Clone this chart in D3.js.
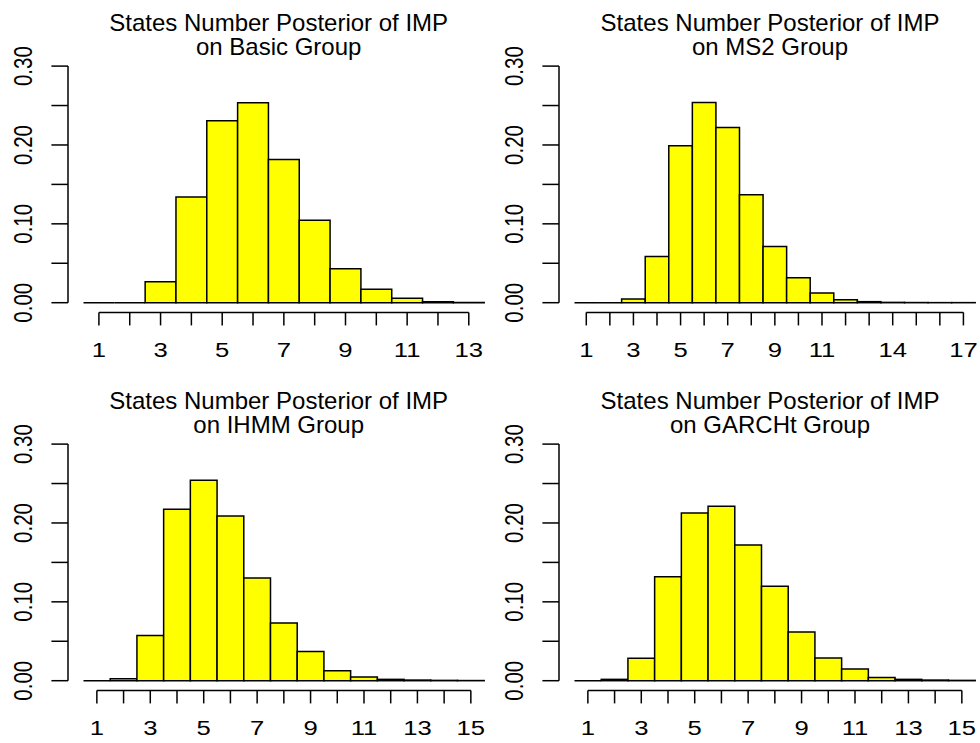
<!DOCTYPE html>
<html>
<head>
<meta charset="utf-8">
<script src="https://cdn.jsdelivr.net/npm/d3@7"></script>
<style>
  html, body { margin: 0; padding: 0; background: #fff; }
  svg { display: block; }
  text { font-family: "Liberation Sans", Arial, Helvetica, sans-serif; fill: #000; }
</style>
</head>
<body>
<svg id="chart" width="980" height="743"></svg>
<script>
// ---- Data ----
const titleLine1 = "States Number Posterior of IMP";
const groupNames = ["Basic", "MS2", "IHMM", "GARCHt"];

const basicValues  = [0, 0, 0.0266, 0.134, 0.2307, 0.2535, 0.1817, 0.1044, 0.0431, 0.0169, 0.0055, 0.0013, 0.0004];
const ms2Values    = [0, 0, 0.0046, 0.0587, 0.199, 0.254, 0.2222, 0.1369, 0.0714, 0.0317, 0.0123, 0.0038, 0.0013, 0.0004, 0.0002, 0.0001, 0.0001];
const ihmmValues   = [0, 0.0025, 0.0572, 0.2174, 0.2542, 0.2089, 0.1301, 0.0733, 0.0369, 0.0127, 0.0047, 0.0017, 0.0008, 0.0004, 0.0002];
const garchtValues = [0, 0.0017, 0.0284, 0.1318, 0.2127, 0.2212, 0.172, 0.1199, 0.0619, 0.0288, 0.0148, 0.0042, 0.0017, 0.0008, 0.0004];

const basicXLabels  = [1, 3, 5, 7, 9, 11, 13];
const ms2XLabels    = [1, 3, 5, 7, 9, 11, 14, 17];
const ihmmXLabels   = [1, 3, 5, 7, 9, 11, 13, 15];
const garchtXLabels = [1, 3, 5, 7, 9, 11, 13, 15];

const yTicks      = [0, 0.05, 0.10, 0.15, 0.20, 0.25, 0.30];
const yTickLabels = [0, 0.10, 0.20, 0.30];

// ---- Layout ----
const panels = [
  { values: basicValues,  xLabels: basicXLabels,  name: groupNames[0], col: 0, row: 0 },
  { values: ms2Values,    xLabels: ms2XLabels,    name: groupNames[1], col: 1, row: 0 },
  { values: ihmmValues,   xLabels: ihmmXLabels,   name: groupNames[2], col: 0, row: 1 },
  { values: garchtValues, xLabels: garchtXLabels, name: groupNames[3], col: 1, row: 1 }
];

const colAxisX   = [68, 559];      // y-axis line x per column
const colTitleX  = [278.7, 770];   // title centre per column
const rowBaseY   = [302.7, 680.7]; // y of value 0 per row
const plotHeight = 236.6;          // pixels for 0..0.30
const barLeftOff = 15.5, barRightOff = 416.2;
const axisFont = 20.5, xStretch = 1.25;

const svg = d3.select("#chart");

panels.forEach(p => {
  const ax = colAxisX[p.col];
  const y0 = rowBaseY[p.row];
  const n = p.values.length;

  const x = d3.scaleLinear().domain([0.5, n + 0.5]).range([ax + barLeftOff, ax + barRightOff]);
  const y = d3.scaleLinear().domain([0, 0.30]).range([y0, y0 - plotHeight]);

  const g = svg.append("g");

  // bars (paths so zero-height bars still show their border line)
  g.selectAll("path.bar")
    .data(p.values)
    .enter().append("path")
    .attr("class", "bar")
    .attr("d", (v, i) => {
      const k = i + 1;
      const xa = x(k - 0.5), xb = x(k + 0.5);
      return `M${xa},${y(0)}V${y(v)}H${xb}V${y(0)}Z`;
    })
    .attr("fill", "#ffff00")
    .attr("stroke", "#000")
    .attr("stroke-width", 1.5)
    .attr("stroke-linejoin", "miter");

  // x axis
  const xAxisY = y0 + 9.7;
  const ticks = d3.range(1, n + 1);
  g.append("line")
    .attr("x1", x(1)).attr("x2", x(n))
    .attr("y1", xAxisY).attr("y2", xAxisY)
    .attr("stroke", "#000").attr("stroke-width", 1.5);
  g.selectAll("line.xt").data(ticks).enter().append("line")
    .attr("x1", d => x(d)).attr("x2", d => x(d))
    .attr("y1", xAxisY).attr("y2", xAxisY + 13)
    .attr("stroke", "#000").attr("stroke-width", 1.5);
  g.selectAll("text.xl").data(p.xLabels).enter().append("text")
    .attr("transform", d => `translate(${x(d)},${y0 + 54}) scale(${xStretch},1)`)
    .attr("text-anchor", "middle")
    .attr("font-size", axisFont)
    .text(d => d);

  // y axis
  g.append("line")
    .attr("x1", ax).attr("x2", ax)
    .attr("y1", y(0)).attr("y2", y(0.30))
    .attr("stroke", "#000").attr("stroke-width", 1.5);
  g.selectAll("line.yt").data(yTicks).enter().append("line")
    .attr("x1", ax - 16.6).attr("x2", ax)
    .attr("y1", d => y(d)).attr("y2", d => y(d))
    .attr("stroke", "#000").attr("stroke-width", 1.5);
  g.selectAll("text.yl").data(yTickLabels).enter().append("text")
    .attr("transform", d => `translate(${ax - 36.3},${y(d)}) scale(${xStretch},1) rotate(-90)`)
    .attr("text-anchor", "middle")
    .attr("font-size", axisFont)
    .text(d => d3.format(".2f")(d));

  // title
  const t = g.append("text")
    .attr("text-anchor", "middle")
    .attr("font-size", 24);
  t.append("tspan").attr("x", colTitleX[p.col]).attr("y", y0 - 272).text(titleLine1);
  t.append("tspan").attr("x", colTitleX[p.col]).attr("y", y0 - 247.7).text("on " + p.name + " Group");
});
</script>
</body>
</html>
